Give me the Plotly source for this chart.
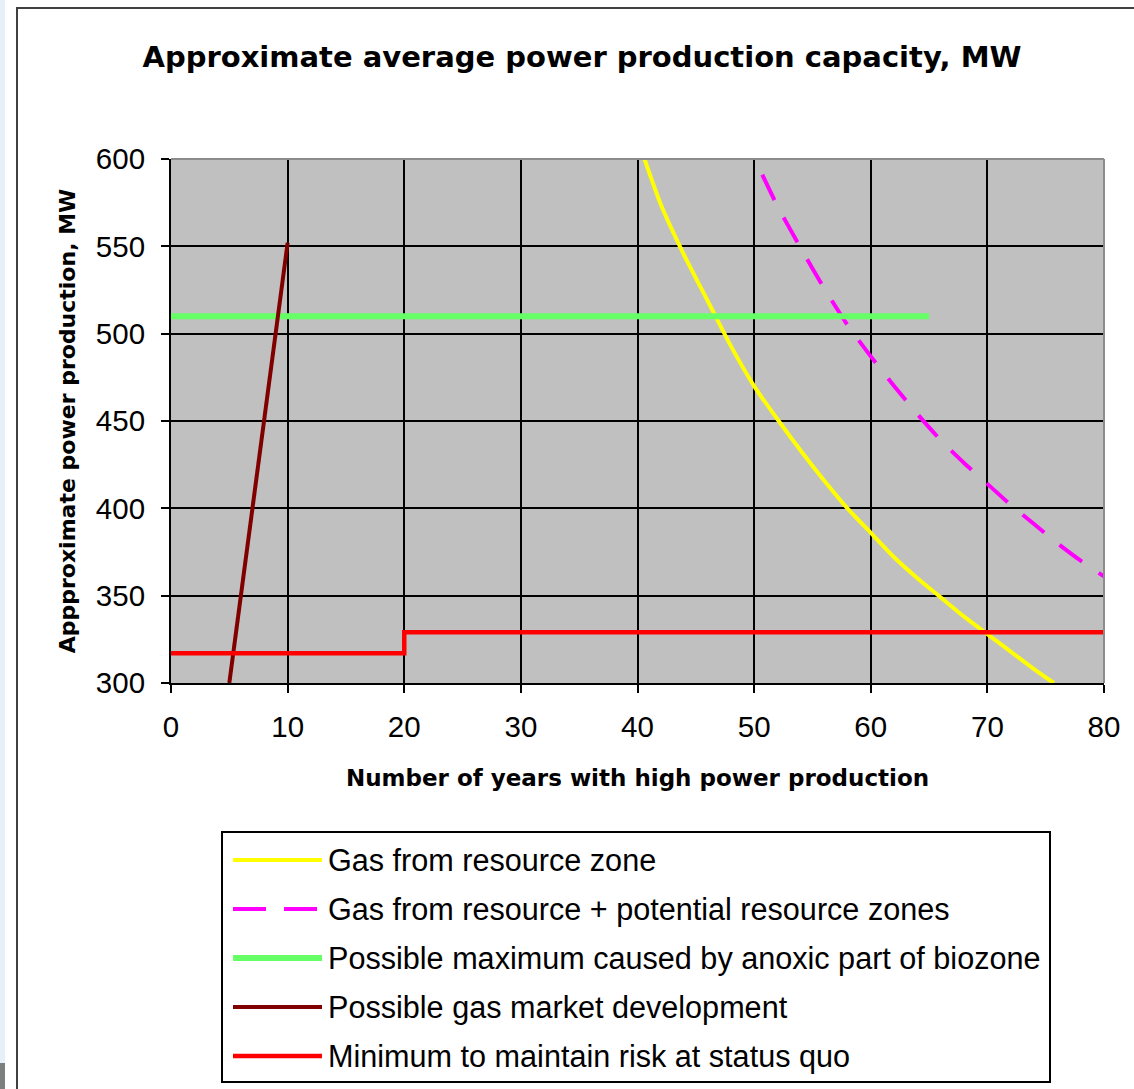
import plotly.graph_objects as go

# ---------------- data ----------------
title_text = "Approximate average power production capacity, MW"
x_title = "Number of years with high power production"
y_title = "Appproximate power production, MW"

names = [
    "Gas from resource zone",
    "Gas from resource + potential resource zones",
    "Possible maximum caused by anoxic part of biozone",
    "Possible gas market development",
    "Minimum to maintain risk at status quo",
]

gas_x = [40.6, 42, 44, 46, 48, 50, 52, 54, 56, 58, 60, 62, 64, 66, 68, 70, 72, 74, 75.7]
gas_y = [600, 574, 545, 519, 493, 470, 451, 433, 416, 400, 386, 372, 360, 349, 338, 328, 318, 308, 300]

pot_x = [50.7, 52, 54, 56, 58, 60, 62, 64, 66, 68, 70, 72, 74, 76, 78, 80]
pot_y = [591, 573, 549, 526, 505, 487, 470, 454, 439, 426, 414, 402, 391, 380, 370, 361]

bio_x = [0, 65]
bio_y = [510, 510]

mkt_x = [5, 10]
mkt_y = [300, 552]

min_x = [0, 20, 80]
min_y = [317, 329, 329]

x_ticks = [0, 10, 20, 30, 40, 50, 60, 70, 80]
y_ticks = [300, 350, 400, 450, 500, 550, 600]

colors = ["#FFFF00", "#FF00FF", "#66FF66", "#800000", "#FF0000"]
widths = [4, 4, 6, 4, 4.5]
dashes = ["solid", "28px,20px", "solid", "solid", "solid"]

# ---------------- layout geometry (pixels) ----------------
W, H = 1134, 1089
PL, PR, PT, PB = 171, 1104, 159, 683


def px_x(p):
    return (p - PL) / (PR - PL)


def px_y(p):
    return (PB - p) / (PB - PT)


fig = go.Figure()

series = [(gas_x, gas_y, "spline"), (pot_x, pot_y, "spline"), (bio_x, bio_y, "linear"),
          (mkt_x, mkt_y, "linear"), (min_x, min_y, "hv")]
for (xs, ys, shp), nm, c, w, d in zip(series, names, colors, widths, dashes):
    line = dict(color=c, width=w, dash=d, shape=shp)
    if shp == "spline":
        line["smoothing"] = 0.6
    fig.add_trace(go.Scatter(x=xs, y=ys, mode="lines", name=nm, showlegend=False, line=line))

shapes = []
# left page strip
shapes.append(dict(type="rect", xref="paper", yref="paper", x0=px_x(-5), x1=px_x(5),
                   y0=px_y(1100), y1=px_y(-5), fillcolor="#E6F0F8", line=dict(width=0), layer="below"))
shapes.append(dict(type="rect", xref="paper", yref="paper", x0=px_x(-5), x1=px_x(5),
                   y0=px_y(1100), y1=px_y(1063), fillcolor="#7B807E", line=dict(width=0), layer="below"))
# outer chart border
shapes.append(dict(type="rect", xref="paper", yref="paper", x0=px_x(17), x1=px_x(1160),
                   y0=px_y(1120), y1=px_y(8), line=dict(color="#404040", width=2), layer="below"))
# gray top/right plot frame
shapes.append(dict(type="line", xref="paper", yref="paper", x0=0, x1=1, y0=1, y1=1,
                   line=dict(color="#8C8C8C", width=2), layer="above"))
shapes.append(dict(type="line", xref="paper", yref="paper", x0=1, x1=1, y0=0, y1=1,
                   line=dict(color="#8C8C8C", width=2), layer="above"))
# legend box
shapes.append(dict(type="rect", xref="paper", yref="paper", x0=px_x(222), x1=px_x(1050),
                   y0=px_y(1082), y1=px_y(832), line=dict(color="#000000", width=2),
                   fillcolor="white", layer="above"))

rows = [860, 909, 958, 1007, 1056]
annotations = []
for r, nm, c, w, d in zip(rows, names, colors, widths, dashes):
    ld = "33px,18px" if d != "solid" else "solid"
    shapes.append(dict(type="line", xref="paper", yref="paper", x0=px_x(233), x1=px_x(322),
                       y0=px_y(r), y1=px_y(r), line=dict(color=c, width=w, dash=ld), layer="above"))
    annotations.append(dict(text=nm, xref="paper", yref="paper", x=px_x(326), y=px_y(r),
                            xanchor="left", yanchor="middle", showarrow=False,
                            font=dict(family="Liberation Sans", size=30.6, color="black")))

axis_common = dict(showgrid=True, gridcolor="black", gridwidth=2, showline=True,
                   linecolor="black", linewidth=2, ticks="outside", ticklen=8, tickwidth=2,
                   tickcolor="black", zeroline=False,
                   tickfont=dict(family="Liberation Sans", size=29.5, color="black"))

fig.update_layout(
    width=W, height=H,
    margin=dict(l=PL, r=W - PR, t=PT, b=H - PB, pad=0),
    paper_bgcolor="white",
    plot_bgcolor="#C0C0C0",
    title=dict(text=title_text, x=582 / W, y=1 - 57 / H, xanchor="center", yanchor="middle",
               xref="container", yref="container",
               font=dict(family="DejaVu Sans", size=29, color="black", weight="bold")),
    xaxis=dict(range=[0, 80], tickvals=x_ticks, ticklabelstandoff=9,
               title=dict(text=x_title, standoff=27,
                          font=dict(family="DejaVu Sans", size=23, color="black", weight="bold")),
               **axis_common),
    yaxis=dict(range=[300, 600], tickvals=y_ticks, ticklabelstandoff=10,
               title=dict(text=y_title, standoff=14,
                          font=dict(family="DejaVu Sans", size=22, color="black", weight="bold")),
               **axis_common),
    shapes=shapes,
    annotations=annotations,
    showlegend=False,
)

fig.write_html("out.html")
